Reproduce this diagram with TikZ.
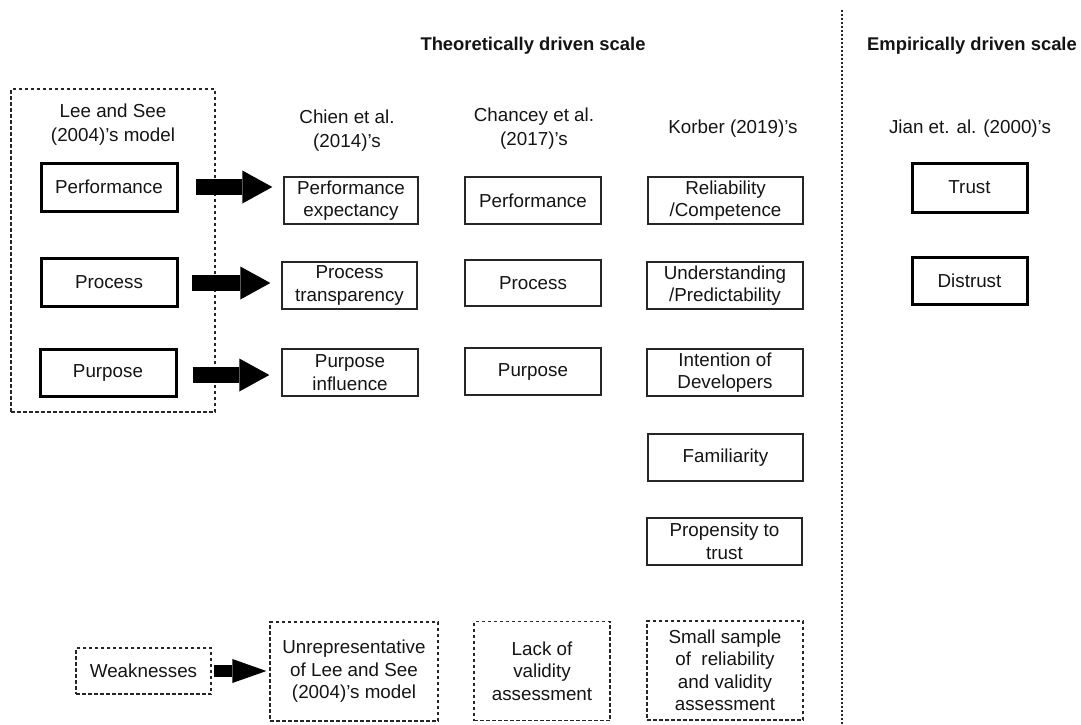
\documentclass[tikz,border=0pt]{standalone}
\usepackage{fontspec}
\setmainfont{Liberation Sans}
\usetikzlibrary{arrows.meta,calc}
\definecolor{ink}{HTML}{141414}
\definecolor{edge}{HTML}{262626}
\begin{document}
\begin{tikzpicture}[x=1pt,y=-1pt,
  every node/.style={font=\fontsize{18.8}{22.5}\selectfont, text=ink, align=center, inner sep=0pt},
  ttl/.style={font=\fontsize{18.8}{24}\selectfont},
  hdr/.style={font=\fontsize{18.4}{24}\selectfont\bfseries},
  sz/.style 2 args={minimum width=#1, minimum height=#2},
  thinbox/.style={draw=edge, line width=1.3pt},
  thickbox/.style={draw=black, line width=3pt},
  dashbox/.style={draw=edge, line width=1.3pt, dash pattern=on 3.5pt off 2.5pt},
  fatarrow/.style={draw=black, line width=16pt, -{Triangle[length=30pt,width=33pt,line width=0pt]}},
  smallarrow/.style={draw=black, line width=12pt, -{Triangle[length=34pt,width=24pt,line width=0pt]}},
  sep/.style={draw=edge, line width=2.2pt, dash pattern=on 2pt off 2pt}
]
\useasboundingbox (0,0) rectangle (1081,724);

% headers
\node[hdr] (th) at (533,46) {Theoretically driven scale};
\node[hdr] (em) at (972,46) {Empirically driven scale};
\coordinate (st) at (842,10);
\coordinate (sb) at (842,724);
\draw[sep] (st) -- (sb);

% Lee and See
\node[dashbox, sz={204pt}{323pt}] (lee) at (113,250.5) {};
\node[ttl] (leet) at (113,125) {Lee and See\\(2004)'s model};
\node[thickbox, sz={136pt}{48pt}] (lp) at (109,187) {Performance};
\node[thickbox, sz={136pt}{48pt}] (lr) at (109,282) {Process};
\node[thickbox, sz={136pt}{47pt}] (lu) at (108,372.5) {Purpose};

% Chien
\node[ttl] (ct) at (347,131) {Chien et al.\\(2014)'s};
\node[thinbox, sz={134pt}{47pt}] (cp) at (351,200.5) {Performance\\expectancy};
\node[thinbox, sz={135pt}{47pt}] (cr) at (349.5,285.5) {Process\\transparency};
\node[thinbox, sz={136pt}{47pt}] (cu) at (350,372.5) {Purpose\\influence};

% Chancey
\node[ttl] (ht) at (534,129) {Chancey et al.\\(2017)'s};
\node[thinbox, sz={136pt}{47pt}] (hp) at (533,200.5) {Performance};
\node[thinbox, sz={136pt}{46pt}] (hr) at (533,283) {Process};
\node[thinbox, sz={136pt}{47pt}] (hu) at (533,371.5) {Purpose};

% Korber
\node[ttl] (kt) at (733,129) {Korber (2019)'s};
\node[thinbox, sz={155pt}{47pt}] (k1) at (725.5,200.5) {Reliability\\/Competence};
\node[thinbox, sz={156pt}{47pt}] (k2) at (725,285.5) {Understanding\\/Predictability};
\node[thinbox, sz={156pt}{47pt}] (k3) at (725,372.5) {Intention of\\Developers};
\node[thinbox, sz={155pt}{47pt}] (k4) at (725.5,457.5) {Familiarity};
\node[thinbox, sz={155pt}{47pt}] (k5) at (724.5,541.5) {Propensity to\\trust};

% Jian
\node[ttl] (jt) at (970,129) {Jian et. al. (2000)'s};
\node[thickbox, sz={115pt}{49pt}] (jtr) at (969.5,187.5) {Trust};
\node[thickbox, sz={115pt}{47pt}] (jds) at (969.5,280.5) {Distrust};

% Weaknesses row
\node[dashbox, sz={135pt}{46pt}] (wk) at (143.5,671) {Weaknesses};
\node[dashbox, sz={168pt}{99pt}] (wu) at (354,671.5) {Unrepresentative\\of Lee and See\\(2004)'s model};
\node[dashbox, sz={136pt}{99pt}] (wl) at (542,671) {Lack of\\validity\\assessment};
\node[dashbox, sz={156pt}{99pt}] (ws) at (725,670.5) {Small sample\\of\ \ reliability\\and validity\\assessment};

% arrows
\draw[fatarrow, shorten <=17pt, shorten >=11pt] (lp.east) -- (lp.east -| cp.west);
\draw[fatarrow, shorten <=13pt, shorten >=11pt] ([yshift=-1pt]lr.east) -- ([yshift=-1pt]lr.east -| cr.west);
\draw[fatarrow, shorten <=15pt, shorten >=12pt] ([yshift=-2.5pt]lu.east) -- ([yshift=-2.5pt]lu.east -| cu.west);
\draw[smallarrow, shorten <=2pt, shorten >=3pt] (wk.east) -- (wk.east -| wu.west);
\end{tikzpicture}
\end{document}
